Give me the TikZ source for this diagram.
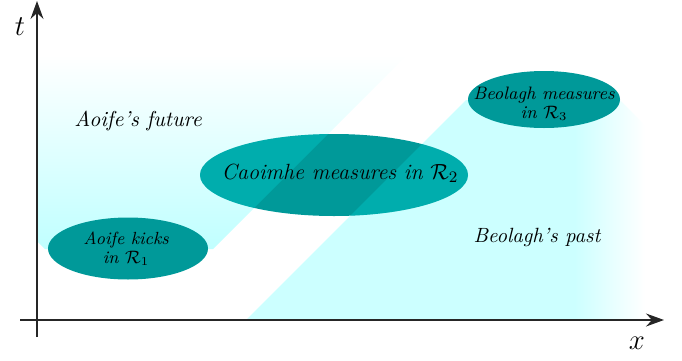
\documentclass[tikz,border=0pt]{standalone}
\usetikzlibrary{arrows.meta}
\definecolor{evt}{RGB}{0,153,153}
\definecolor{cyl}{RGB}{204,255,255}
\definecolor{cya}{RGB}{192,255,255}
\definecolor{cyf}{RGB}{0,255,255}
\tikzset{
  axisline/.style={line width=0.55pt, draw=black!85, -{Stealth[length=9pt,width=6.5pt,inset=3pt]}},
  evfill/.style={fill=evt},
  lbl/.style={inner sep=0pt, align=center, font=\itshape},
}
\begin{document}
\begin{tikzpicture}[x=0.5pt,y=-0.5pt]
\useasboundingbox (0,0) rectangle (682,360);
% Aoife's future (light cone)
\def\pathA{(37,55) -- (37,241) -- (45,249) -- (213,249) -- (407,55) -- cycle}
\def\pathB{(246,320) -- (466,100) -- (620,100) -- (840,320) -- cycle}
\shade[top color=white, bottom color=cya] \pathA;
% Beolagh's past
\begin{scope}
  \clip \pathB;
  \fill[cyl] (240,95) rectangle (575,321);
  \shade[left color=cyl, right color=white] (574.5,95) rectangle (645,321);
\end{scope}
% Caoimhe ellipse with the cones shining through
\fill[evfill] (334,175) ellipse [x radius=67pt, y radius=20.5pt];
\begin{scope}
  \clip (334,175) ellipse [x radius=67pt, y radius=20.5pt];
  \fill[cyf, fill opacity=0.2] \pathA;
  \fill[cyf, fill opacity=0.2] \pathB;
\end{scope}
\fill[evfill] (128,248.5) ellipse [x radius=40pt, y radius=15.5pt];
\fill[evfill] (544,99.5) ellipse [x radius=38pt, y radius=14.25pt];
% axes
\coordinate (tfoot) at (37,337);
\coordinate (ttip) at (37,1);
\coordinate (xfoot) at (20,320);
\coordinate (xtip) at (664,320);
\draw[axisline] (tfoot) -- (ttip);
\draw[axisline] (xfoot) -- (xtip);
\node[inner sep=0pt, font=\Large] (tlab) at (20,27) {$t$};
\node[inner sep=0pt, font=\Large] (xlab) at (637,343) {$x$};
% labels
\node[lbl, font=\fontsize{10.8}{12}\selectfont\itshape] (afut) at (138,121) {Aoife's future};
\node[lbl, font=\fontsize{11}{12}\selectfont\itshape] (cao) at (340,173) {Caoimhe measures in $\mathcal{R}_2$};
\node[lbl, font=\fontsize{8.8}{9.4}\selectfont\itshape] (aok) at (126,249) {Aoife kicks\\in $\mathcal{R}_1$};
\node[lbl, font=\fontsize{9}{9.6}\selectfont\itshape] (beo) at (544,104) {Beolagh measures\\in $\mathcal{R}_3$};
\node[lbl, font=\fontsize{10.3}{12}\selectfont\itshape] (bpast) at (537,237) {Beolagh's past};
\end{tikzpicture}
\end{document}
